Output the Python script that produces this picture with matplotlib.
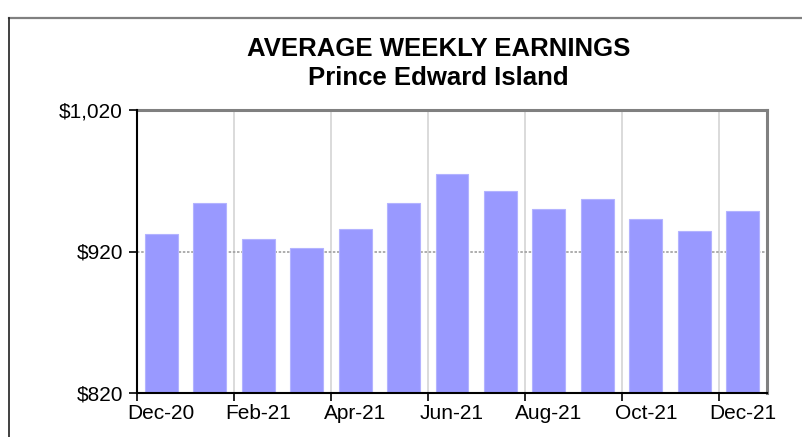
import numpy as np
import matplotlib.pyplot as plt
from matplotlib.lines import Line2D

plt.rcParams['font.family'] = ['Liberation Sans', 'DejaVu Sans']

# Datos
meses = ['Dec-20', 'Jan-21', 'Feb-21', 'Mar-21', 'Apr-21', 'May-21', 'Jun-21',
         'Jul-21', 'Aug-21', 'Sep-21', 'Oct-21', 'Nov-21', 'Dec-21']
ganancias = [932.1, 954.1, 928.6, 922.5, 936.1, 954.1, 974.6,
             962.5, 949.8, 957.4, 943.2, 934.5, 948.8]
y_ticks = [820, 920, 1020]
y_labels = ['$820', '$920', '$1,020']

W, H = 803, 437
fig = plt.figure(figsize=(W/100, H/100), dpi=100)
ax = fig.add_axes([137/W, 1-393/H, (767-137)/W, (393-110)/H])

x = np.arange(len(meses))
ax.bar(x, [g - 820 for g in ganancias], bottom=820, width=0.68,
       color='#9999ff', edgecolor='#b3b3ff', linewidth=0.8, zorder=3)

ax.set_xlim(-0.5, len(meses) - 0.5)
ax.set_ylim(820, 1020)

# ticks mayores en los limites de categoria (cada 2 meses), etiquetas centradas en la barra
bordes = np.arange(-0.5, len(meses), 2)
ax.set_xticks(bordes)
ax.set_xticklabels([])
ax.set_xticks(x[::2], minor=True)
ax.set_xticklabels(meses[::2], minor=True, fontsize=15)
ax.tick_params(axis='x', which='minor', length=0, pad=8)
ax.tick_params(axis='x', which='major', length=6, width=1.2, color='black', direction='out')

ax.set_yticks(y_ticks)
ax.set_yticklabels(y_labels, fontsize=15)
ax.tick_params(axis='y', length=6, width=1.2, direction='out', pad=4)

# grilla
for b in bordes[1:]:
    ax.axvline(b, color='#d4d4d4', linewidth=1.2, zorder=1)
ax.axhline(920, color='#a0a0a0', linewidth=1.2, linestyle=(0, (1.5, 1)), zorder=1)

for s in ['left', 'bottom']:
    ax.spines[s].set_color('black')
    ax.spines[s].set_linewidth(1.5)
    ax.spines[s].set_zorder(4)
for s in ['top', 'right']:
    ax.spines[s].set_color('#808080')
    ax.spines[s].set_linewidth(2.2)

fig.text(438.5/W, 1-48.5/H, 'AVERAGE WEEKLY EARNINGS', ha='center', va='center',
         fontsize=18.5, fontweight='bold')
fig.text(438.5/W, 1-78/H, 'Prince Edward Island', ha='center', va='center',
         fontsize=18.5, fontweight='bold')

# borde exterior
fig.add_artist(Line2D([9/W, 1.01], [1-17.5/H, 1-17.5/H], color='#808080', linewidth=1.6,
                      transform=fig.transFigure))
fig.add_artist(Line2D([9/W, 9/W], [-0.01, 1-17.5/H], color='#202020', linewidth=1.2,
                      transform=fig.transFigure))

fig.savefig('out.png', dpi=100)
